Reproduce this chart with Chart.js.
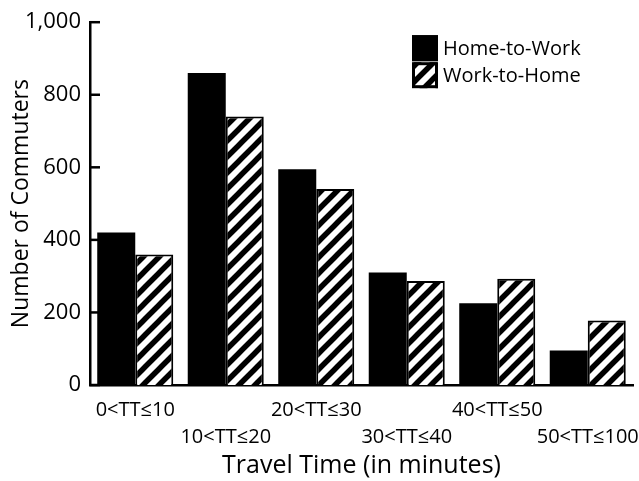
<!DOCTYPE html>
<html>
<head>
<meta charset="utf-8">
<script src="https://cdn.jsdelivr.net/npm/chart.js@4/dist/chart.umd.min.js"></script>
<style>
html, body { margin: 0; padding: 0; background: #fff; }
#wrap { width: 639px; height: 481px; }
</style>
</head>
<body>
<div id="wrap"><canvas id="chart-commute"></canvas></div>
<script>
// Commuters by travel time
let labels = ['0<TT≤10', '10<TT≤20', '20<TT≤30', '30<TT≤40', '40<TT≤50', '50<TT≤100'];
let homeToWork = [420, 860, 595, 310, 225, 95];
let workToHome = [360, 740, 540, 287, 293, 178];
let yTicks = [0, 200, 400, 600, 800, 1000];

let fontFamily = "'Open Sans', 'DejaVu Sans', sans-serif";

function hatchPattern() {
    let c = document.createElement('canvas');
    c.width = 16; c.height = 16;
    let g = c.getContext('2d');
    g.fillStyle = '#fff';
    g.fillRect(0, 0, 16, 16);
    g.strokeStyle = '#000';
    g.lineWidth = 5.5;
    g.beginPath();
    g.moveTo(-4, 20); g.lineTo(20, -4);
    g.moveTo(-4, 4); g.lineTo(4, -4);
    g.moveTo(12, 20); g.lineTo(20, 12);
    g.stroke();
    return g.createPattern(c, 'repeat');
}

let hatch = hatchPattern();

// inward tick marks on the y axis
let innerTicks = {
    id: 'innerTicks',
    afterDraw(chart) {
        let ctx = chart.ctx;
        let y = chart.scales.y;
        ctx.save();
        ctx.strokeStyle = '#000';
        ctx.lineWidth = 2.5;
        yTicks.forEach(v => {
            let py = y.getPixelForValue(v);
            ctx.beginPath();
            ctx.moveTo(y.right, py);
            ctx.lineTo(y.right + 10, py);
            ctx.stroke();
        });
        ctx.restore();
    }
};

// legend drawn inside the plot, top right
let innerLegend = {
    id: 'innerLegend',
    afterDraw(chart) {
        let ctx = chart.ctx;
        let area = chart.chartArea;
        let x = area.right - 221;
        let y = area.top + 13;
        ctx.save();
        ctx.font = "20px " + fontFamily;
        ctx.textBaseline = 'middle';
        chart.data.datasets.forEach((ds, i) => {
            let top = y + i * 27;
            ctx.fillStyle = ds.backgroundColor;
            ctx.fillRect(x, top, 26, 26);
            ctx.strokeStyle = '#000';
            ctx.lineWidth = 3;
            ctx.strokeRect(x + 1.5, top + 1.5, 23, 23);
            ctx.fillStyle = '#000';
            ctx.fillText(ds.label, x + 31, top + 14);
        });
        ctx.restore();
    }
};

let chartCommute = document.getElementById('chart-commute').getContext('2d');

let chart1 = new Chart(chartCommute, {
    type: 'bar',
    data: {
        labels: labels,
        datasets: [
            {
                label: 'Home-to-Work',
                data: homeToWork,
                backgroundColor: '#000',
                borderColor: '#000',
                borderWidth: 0
            },
            {
                label: 'Work-to-Home',
                data: workToHome,
                backgroundColor: hatch,
                borderColor: '#000',
                borderWidth: 2
            }
        ]
    },
    options: {
        responsive: true,
        maintainAspectRatio: false,
        animation: false,
        layout: { padding: { top: 14, right: 6, left: 0, bottom: 0 } },
        datasets: {
            bar: { categoryPercentage: 0.84, barPercentage: 1 }
        },
        plugins: {
            legend: { display: false },
            tooltip: { enabled: false }
        },
        scales: {
            x: {
                grid: { display: false, drawTicks: false },
                border: { display: true, color: '#000', width: 2.5 },
                afterFit(scale) {
                    scale.height = 96;
                    scale.paddingLeft = 0;
                    scale.paddingRight = 0;
                },
                ticks: {
                    color: '#000',
                    font: { family: fontFamily, size: 20, lineHeight: 1.35 },
                    padding: 12,
                    maxRotation: 0,
                    autoSkip: false,
                    callback: function (value, index) {
                        let t = this.getLabelForValue(value);
                        return index % 2 ? ['', t] : t;
                    }
                },
                title: {
                    display: true,
                    text: 'Travel Time (in minutes)',
                    color: '#000',
                    font: { family: fontFamily, size: 25 },
                    padding: { top: 0, bottom: 0 }
                }
            },
            y: {
                min: 0,
                max: 1000,
                grid: { display: false, drawTicks: false },
                border: { display: true, color: '#000', width: 2.5 },
                afterFit(scale) { scale.width = 90; },
                afterBuildTicks(scale) {
                    scale.ticks = yTicks.map(v => ({ value: v }));
                },
                ticks: {
                    color: '#000',
                    font: { family: fontFamily, size: 22 },
                    padding: 9
                },
                title: {
                    display: true,
                    text: 'Number of Commuters',
                    color: '#000',
                    font: { family: fontFamily, size: 23 },
                    padding: { top: 8, bottom: 0 }
                }
            }
        }
    },
    plugins: [innerTicks, innerLegend]
});
</script>
</body>
</html>
